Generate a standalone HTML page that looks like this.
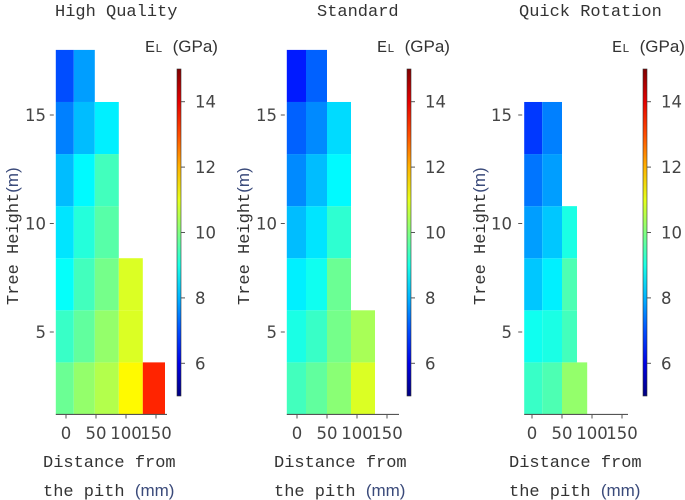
<!DOCTYPE html>
<html><head><meta charset="utf-8"><style>
body{margin:0;background:#fff;width:685px;height:500px;overflow:hidden}
svg{display:block}
.t{font-family:"Liberation Mono",monospace;font-size:17px;fill:#333}
.n{font-family:"DejaVu Sans",sans-serif;font-size:16.5px;fill:#444}
.s{font-family:"Liberation Sans",sans-serif;font-size:17px;fill:#3a4a7a}
</style></head><body>
<svg id="c" width="685" height="500"></svg>
<script>
// shared row edges (m)
const rowEdges=[1.2,3.6,6.0,8.4,10.8,13.2,15.6,18.0];
const yTicks=[5,10,15];
const xTicks=[0,50,100,150];
const cbTicks=[6,8,10,12,14];
const panelTitles=["High Quality","Standard","Quick Rotation"];
// column edges (mm) per panel
const colEdgesHQ=[-17,13,48,88,128,165];
const colEdgesST=[-17,15,50,90,130];
const colEdgesQR=[-13,17,50,75,92];
// values per column, bottom row upward (GPa)
const valsHQ=[[9.8,9.3,8.8,8.5,8.1,7.5,7.0],[10.2,9.7,9.4,9.1,8.7,8.1,7.8],[10.5,10.2,9.9,9.6,9.4,8.6],[11.3,10.9,10.9],[13.4]];
const valsST=[[9.4,9.0,8.6,8.1,7.6,7.2,6.5],[9.7,9.3,8.9,8.5,8.1,7.6,7.2],[10.1,9.9,9.8,9.2,8.7,8.4],[10.9,10.4]];
const valsQR=[[9.3,8.9,8.2,7.8,7.4,6.8],[9.5,9.0,8.6,8.2,7.8,7.5],[10.2,9.4,9.5,9.0],[10.2]];

const svg=document.getElementById('c');
const NS='http://www.w3.org/2000/svg';
function mk(t,a,p){const e=document.createElementNS(NS,t);for(const k in a)e.setAttribute(k,a[k]);(p||svg).appendChild(e);return e;}
function jet(v){let x=(v-5)/10;x=Math.max(0,Math.min(1,x));
 const f=t=>Math.max(0,Math.min(1,1.5-Math.abs(4*x-t)));
 const r=f(3),g=f(2),b=f(1);return `rgb(${Math.round(r*255)},${Math.round(g*255)},${Math.round(b*255)})`;}
const yS=m=>332-(m-5)*21.7;
const panels=[
 {x0:66,edges:colEdgesHQ,vals:valsHQ,axEnd:167,cb:177,title:[55,16],el:145,ylab:13,ytx:46},
 {x0:297,edges:colEdgesST,vals:valsST,axEnd:399,cb:407,title:[317,16],el:377,ylab:244,ytx:277},
 {x0:532,edges:colEdgesQR,vals:valsQR,axEnd:628,cb:643,title:[519,16],el:612,ylab:480,ytx:512}
];
panels.forEach((p,pi)=>{
 const g=mk('g',{});
 
 
 const xS=mm=>p.x0+mm*0.6;
 const tt=mk('text',{x:p.title[0],y:p.title[1],class:'t'},g);tt.textContent=panelTitles[pi];
 
 
 p.vals.forEach((col,ci)=>{col.forEach((v,ri)=>{
  const x1=xS(p.edges[ci]),x2=xS(p.edges[ci+1]),y1=yS(rowEdges[ri+1]),y2=yS(rowEdges[ri]);
  const r=mk('rect',{x:x1,y:y1,width:x2-x1,height:y2-y1,fill:jet(v)},g);
  
  
 });});
 const bottom=yS(rowEdges[0]), left=xS(p.edges[0]);
 const ax=mk('line',{x1:left,y1:bottom,x2:p.axEnd,y2:bottom,stroke:'#555','stroke-width':1.2},g);
 
 
 xTicks.forEach(t=>{const x=xS(t);mk('line',{x1:x,y1:bottom,x2:x,y2:bottom+4,stroke:'#555'},g);
  const l=mk('text',{x:x,y:439,class:'n','text-anchor':'middle'},g);l.textContent=t;
  
  });
 yTicks.forEach(t=>{const y=yS(t);mk('line',{x1:left-6,y1:y,x2:left-2,y2:y,stroke:'#555'},g);
  const l=mk('text',{x:p.ytx,y:y+6,class:'n','text-anchor':'end'},g);l.textContent=t;
  
  });
 const xl=mk('text',{x:p.x0-23,y:467,class:'t'},g);xl.textContent='Distance from';
 
 
 const xl2=mk('text',{x:p.x0-23,y:496,class:'t'},g);xl2.innerHTML='the pith <tspan class="s">(mm)</tspan>';
 
 
 const yl=mk('text',{x:0,y:0,class:'t',transform:`translate(${p.ylab+5},305) rotate(-90)`},g);
 yl.innerHTML='Tree Height<tspan class="s">(m)</tspan>';
 
 
 // colorbar
 const cbY=v=>396-(v-5)*32.7;
 const grad=mk('linearGradient',{id:'jg'+pi,x1:0,y1:1,x2:0,y2:0},g);
 for(let i=0;i<=10;i++)mk('stop',{offset:i/10,'stop-color':jet(5+i)},grad);
 const cb=mk('rect',{x:p.cb,y:cbY(15),width:4,height:cbY(5)-cbY(15),fill:`url(#jg${pi})`,stroke:'#333','stroke-width':0.6},g);
 
 
 cbTicks.forEach(t=>{const y=cbY(t);mk('line',{x1:p.cb+4,y1:y,x2:p.cb+8,y2:y,stroke:'#555'},g);
  const l=mk('text',{x:p.cb+18,y:y+6,class:'n'},g);l.textContent=t;
  
  });
 const el=mk('text',{x:p.el,y:52,class:'t'},g);
 el.innerHTML='E<tspan style="font-size:12px">L</tspan> <tspan class="s" style="fill:#333">(GPa)</tspan>';
 
 
});
</script>
</body></html>
